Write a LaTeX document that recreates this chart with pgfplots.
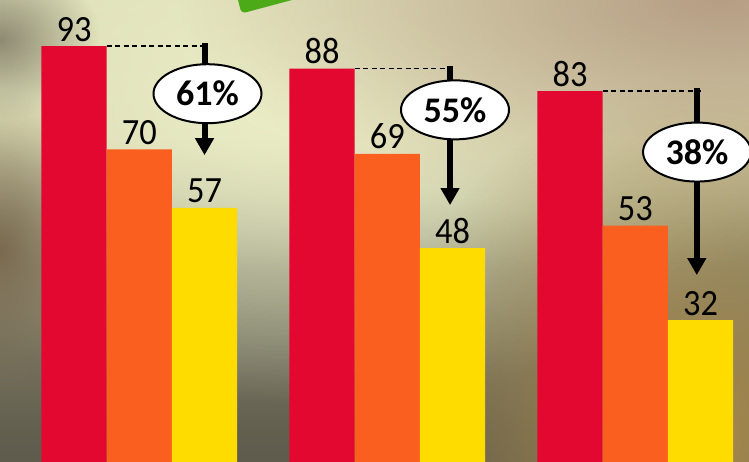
\documentclass[border=0pt]{standalone}
\usepackage{fontspec}
\setmainfont{Carlito}
\usepackage{pgfplots}
\pgfplotsset{compat=1.18}
\usetikzlibrary{arrows.meta,shapes.geometric,fadings}

\definecolor{cred}{RGB}{227,8,48}
\definecolor{corange}{RGB}{250,95,32}
\definecolor{cyellow}{RGB}{255,220,0}
\definecolor{cgreen}{RGB}{76,170,24}
\definecolor{bgtop}{RGB}{226,228,190}
\definecolor{bglight}{RGB}{212,212,172}
\definecolor{bgmid}{RGB}{136,136,114}
\definecolor{bglow}{RGB}{100,96,80}
\definecolor{bgbot}{RGB}{62,60,54}
\definecolor{bgcream}{RGB}{236,238,200}
\definecolor{bgbrown}{RGB}{182,158,132}
\definecolor{bggold}{RGB}{168,138,76}
\definecolor{bgleft}{RGB}{122,106,80}
\definecolor{bgdark}{RGB}{142,138,114}

\pgfdeclareverticalshading{photo}{100bp}{color(0bp)=(bgbot); color(29bp)=(bglow);
  color(46bp)=(bgmid); color(60bp)=(bglight); color(100bp)=(bgtop)}
\tikzfading[name=blob, inner color=transparent!0, outer color=transparent!100]

\begin{document}
\begin{tikzpicture}
% blurred photo behind the chart
\begin{scope}
\clip (0,0) rectangle (749pt,462pt);
\shade[shading=photo] (0,0) rectangle (749pt,462pt);
\fill[bgcream, path fading=blob] (300pt,360pt) ellipse (520pt and 300pt);
\fill[bgbrown, path fading=blob] (720pt,462pt) ellipse (540pt and 220pt);
\fill[bggold, path fading=blob] (700pt,22pt) ellipse (320pt and 360pt);
\fill[bgleft, path fading=blob] (0pt,212pt) ellipse (120pt and 160pt);
\fill[bgdark, path fading=blob] (0pt,422pt) ellipse (100pt and 80pt);
\fill[cgreen, rounded corners=4pt] (236.7pt,467pt) -- (241.5pt,448.5pt) -- (310.7pt,467pt) -- cycle;
\end{scope}

\begin{axis}[
    at={(0,0)}, anchor=south west,
    scale only axis, width=749pt, height=462pt,
    xmin=-0.5617, xmax=2.4585, ymin=0.38, ymax=103.27,
    axis line style={draw=none}, xtick=\empty, ytick=\empty,
    ybar=0pt, bar width=0.263,
    /pgf/number format/assume math mode=true,
    nodes near coords,
    nodes near coords style={font=\fontsize{37}{37}\selectfont, anchor=base,
        inner sep=0pt, yshift=5pt, xscale=0.93, text=black},
  ]
\addplot[fill=cred, draw=none] coordinates {(0,93) (1,88) (2,83)};
\addplot[fill=corange, draw=none] coordinates {(0,70) (1,69) (2,53)};
\addplot[fill=cyellow, draw=none] coordinates {(0,57) (1,48) (2,32)};

% drop from the red bar to the yellow bar
\draw[line width=1.4pt, dash pattern=on 5pt off 3.5pt] (axis cs:-0.1315,93) -- (axis cs:0.263,93);
\draw[line width=1.4pt, dash pattern=on 5pt off 3.5pt] (axis cs:0.8685,88) -- (axis cs:1.263,88);
\draw[line width=1.4pt, dash pattern=on 5pt off 3.5pt] (axis cs:1.8685,83) -- (axis cs:2.263,83);
\draw[line width=6pt, -{Triangle[width=18pt,length=17pt]}] (axis cs:0.263,93.7) -- (axis cs:0.263,68.7);
\draw[line width=6pt, -{Triangle[width=18pt,length=17pt]}] (axis cs:1.253,88.6) -- (axis cs:1.253,57.6);
\draw[line width=6pt, -{Triangle[width=18pt,length=17pt]}] (axis cs:2.248,83.7) -- (axis cs:2.248,42.0);

\tikzset{pct/.style={ellipse, draw=black, line width=2pt, fill=white, minimum width=108pt,
    minimum height=59pt, inner sep=0pt, font=\bfseries\fontsize{36}{36}\selectfont}}
\node[pct] at (axis cs:0.275,82.4) {61\%};
\node[pct] at (axis cs:1.273,78.8) {55\%};
\node[pct] at (axis cs:2.249,69.4) {38\%};
\end{axis}
\pgfresetboundingbox
\useasboundingbox (0,0) rectangle (749pt,462pt);
\end{tikzpicture}
\end{document}
